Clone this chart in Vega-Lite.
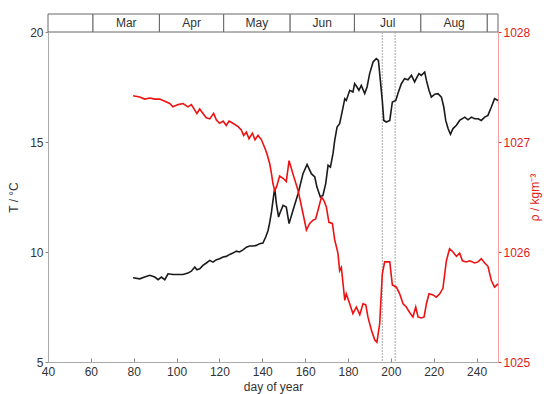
{
  "$schema": "https://vega.github.io/schema/vega-lite/v6.json",
  "padding": {"left": 7, "top": 13, "right": 2, "bottom": 2},
  "spacing": 0,
  "bounds": "flush",
  "config": {
    "view": {"stroke": null},
    "font": "Liberation Sans",
    "axis": {"grid": false, "labelFont": "Liberation Sans", "titleFont": "Liberation Sans", "labelFontSize": 12, "titleFontSize": 12, "titleFontWeight": "normal"}
  },
  "datasets": {
    "months": [
      {"start": 40, "end": 61, "label": ""},
      {"start": 61, "end": 92, "label": "Mar"},
      {"start": 92, "end": 122, "label": "Apr"},
      {"start": 122, "end": 153, "label": "May"},
      {"start": 153, "end": 183, "label": "Jun"},
      {"start": 183, "end": 214, "label": "Jul"},
      {"start": 214, "end": 245, "label": "Aug"},
      {"start": 245, "end": 250, "label": ""}
    ],
    "gaps": [{"day": 196}, {"day": 202}],
    "temp": [
      {"day": 79.7, "T": 8.83}, {"day": 82.8, "T": 8.78}, {"day": 85.1, "T": 8.86}, {"day": 87.5, "T": 8.94},
      {"day": 89.8, "T": 8.86}, {"day": 91.4, "T": 8.74}, {"day": 92.9, "T": 8.86}, {"day": 94.5, "T": 8.74},
      {"day": 96.0, "T": 9.01}, {"day": 98.3, "T": 8.98}, {"day": 100.7, "T": 8.98}, {"day": 103.0, "T": 8.98},
      {"day": 105.3, "T": 9.04}, {"day": 106.9, "T": 9.13}, {"day": 108.5, "T": 9.32}, {"day": 109.5, "T": 9.19},
      {"day": 110.8, "T": 9.24}, {"day": 112.3, "T": 9.39}, {"day": 113.9, "T": 9.5}, {"day": 115.5, "T": 9.62},
      {"day": 117.0, "T": 9.54}, {"day": 118.6, "T": 9.65}, {"day": 120.1, "T": 9.69}, {"day": 121.7, "T": 9.77},
      {"day": 123.2, "T": 9.8}, {"day": 124.8, "T": 9.89}, {"day": 126.3, "T": 9.95}, {"day": 127.9, "T": 10.04},
      {"day": 129.4, "T": 10.0}, {"day": 131.0, "T": 10.1}, {"day": 132.6, "T": 10.22}, {"day": 134.1, "T": 10.27},
      {"day": 135.7, "T": 10.27}, {"day": 137.2, "T": 10.3}, {"day": 138.8, "T": 10.38}, {"day": 140.3, "T": 10.41},
      {"day": 141.6, "T": 10.68}, {"day": 142.7, "T": 10.98}, {"day": 143.5, "T": 11.36}, {"day": 144.3, "T": 11.82},
      {"day": 145.0, "T": 12.35}, {"day": 145.8, "T": 12.9}, {"day": 146.6, "T": 12.19}, {"day": 147.6, "T": 11.59},
      {"day": 148.1, "T": 11.74}, {"day": 149.7, "T": 12.12}, {"day": 151.2, "T": 12.04}, {"day": 152.5, "T": 11.29},
      {"day": 154.3, "T": 11.89}, {"day": 156.7, "T": 12.65}, {"day": 159.0, "T": 13.56}, {"day": 160.9, "T": 13.98},
      {"day": 162.9, "T": 13.56}, {"day": 164.5, "T": 13.41}, {"day": 165.5, "T": 12.95}, {"day": 167.1, "T": 12.5},
      {"day": 168.3, "T": 12.57}, {"day": 169.6, "T": 13.11}, {"day": 170.7, "T": 13.94}, {"day": 171.8, "T": 13.86},
      {"day": 173.0, "T": 14.47}, {"day": 173.8, "T": 15.07}, {"day": 174.9, "T": 15.68}, {"day": 176.1, "T": 15.83},
      {"day": 177.4, "T": 16.44}, {"day": 178.5, "T": 16.97}, {"day": 179.2, "T": 16.89}, {"day": 180.8, "T": 17.35},
      {"day": 182.3, "T": 17.27}, {"day": 183.1, "T": 17.65}, {"day": 184.2, "T": 17.5}, {"day": 185.1, "T": 17.35},
      {"day": 186.2, "T": 17.57}, {"day": 187.8, "T": 17.2}, {"day": 188.9, "T": 17.5}, {"day": 190.1, "T": 18.11},
      {"day": 191.7, "T": 18.64}, {"day": 193.2, "T": 18.79}, {"day": 194.2, "T": 18.71}, {"day": 194.8, "T": 18.11},
      {"day": 196.0, "T": 16.89}, {"day": 196.7, "T": 15.98}, {"day": 197.9, "T": 15.91}, {"day": 199.5, "T": 15.98},
      {"day": 200.7, "T": 16.82}, {"day": 202.3, "T": 16.89}, {"day": 203.3, "T": 17.2}, {"day": 204.9, "T": 17.65},
      {"day": 206.4, "T": 17.88}, {"day": 208.0, "T": 17.83}, {"day": 209.6, "T": 18.03}, {"day": 211.1, "T": 17.73},
      {"day": 212.2, "T": 17.95}, {"day": 213.1, "T": 18.11}, {"day": 214.2, "T": 18.03}, {"day": 215.8, "T": 18.18},
      {"day": 216.6, "T": 17.8}, {"day": 217.8, "T": 17.35}, {"day": 218.9, "T": 17.04}, {"day": 220.5, "T": 17.17},
      {"day": 222.0, "T": 17.2}, {"day": 223.6, "T": 17.04}, {"day": 224.7, "T": 16.59}, {"day": 225.6, "T": 15.98},
      {"day": 226.7, "T": 15.61}, {"day": 227.8, "T": 15.35}, {"day": 229.0, "T": 15.61}, {"day": 230.6, "T": 15.76},
      {"day": 232.1, "T": 15.98}, {"day": 233.4, "T": 16.06}, {"day": 234.5, "T": 16.13}, {"day": 236.0, "T": 16.01},
      {"day": 237.6, "T": 16.13}, {"day": 239.1, "T": 16.06}, {"day": 240.7, "T": 16.06}, {"day": 242.2, "T": 15.98},
      {"day": 243.8, "T": 16.13}, {"day": 245.3, "T": 16.21}, {"day": 246.9, "T": 16.59}, {"day": 248.4, "T": 16.97},
      {"day": 250.0, "T": 16.89}
    ],
    "dens": [
      {"day": 79.7, "rho": 1027.42}, {"day": 82.8, "rho": 1027.41}, {"day": 85.1, "rho": 1027.39}, {"day": 87.5, "rho": 1027.4},
      {"day": 89.8, "rho": 1027.39}, {"day": 92.1, "rho": 1027.39}, {"day": 94.5, "rho": 1027.37}, {"day": 96.8, "rho": 1027.35},
      {"day": 98.3, "rho": 1027.32}, {"day": 100.7, "rho": 1027.34}, {"day": 103.0, "rho": 1027.35}, {"day": 105.3, "rho": 1027.32},
      {"day": 106.9, "rho": 1027.34}, {"day": 108.5, "rho": 1027.29}, {"day": 109.5, "rho": 1027.26}, {"day": 110.8, "rho": 1027.3},
      {"day": 112.3, "rho": 1027.26}, {"day": 113.9, "rho": 1027.22}, {"day": 115.5, "rho": 1027.21}, {"day": 117.3, "rho": 1027.26},
      {"day": 118.6, "rho": 1027.2}, {"day": 120.1, "rho": 1027.17}, {"day": 121.7, "rho": 1027.19}, {"day": 123.2, "rho": 1027.15},
      {"day": 124.5, "rho": 1027.19}, {"day": 126.3, "rho": 1027.17}, {"day": 128.7, "rho": 1027.14}, {"day": 130.2, "rho": 1027.11},
      {"day": 131.3, "rho": 1027.06}, {"day": 132.6, "rho": 1027.09}, {"day": 133.8, "rho": 1027.03}, {"day": 135.4, "rho": 1027.08},
      {"day": 136.6, "rho": 1027.02}, {"day": 138.0, "rho": 1027.06}, {"day": 139.6, "rho": 1027.02}, {"day": 141.1, "rho": 1026.95},
      {"day": 142.2, "rho": 1026.89}, {"day": 143.5, "rho": 1026.8}, {"day": 144.3, "rho": 1026.71}, {"day": 145.0, "rho": 1026.62},
      {"day": 145.8, "rho": 1026.56}, {"day": 146.6, "rho": 1026.59}, {"day": 148.1, "rho": 1026.69}, {"day": 149.7, "rho": 1026.67},
      {"day": 151.2, "rho": 1026.64}, {"day": 152.5, "rho": 1026.83}, {"day": 154.3, "rho": 1026.71}, {"day": 156.7, "rho": 1026.56},
      {"day": 159.0, "rho": 1026.35}, {"day": 160.6, "rho": 1026.2}, {"day": 162.1, "rho": 1026.26}, {"day": 163.7, "rho": 1026.29},
      {"day": 164.9, "rho": 1026.3}, {"day": 166.0, "rho": 1026.38}, {"day": 167.6, "rho": 1026.5}, {"day": 168.7, "rho": 1026.47},
      {"day": 169.9, "rho": 1026.41}, {"day": 171.1, "rho": 1026.27}, {"day": 172.7, "rho": 1026.26}, {"day": 173.8, "rho": 1026.11},
      {"day": 175.3, "rho": 1025.99}, {"day": 176.1, "rho": 1025.83}, {"day": 176.9, "rho": 1025.86}, {"day": 177.7, "rho": 1025.71},
      {"day": 178.5, "rho": 1025.56}, {"day": 179.2, "rho": 1025.62}, {"day": 180.8, "rho": 1025.53}, {"day": 182.3, "rho": 1025.44},
      {"day": 183.9, "rho": 1025.5}, {"day": 185.5, "rho": 1025.43}, {"day": 187.0, "rho": 1025.53}, {"day": 188.3, "rho": 1025.52},
      {"day": 189.3, "rho": 1025.41}, {"day": 190.9, "rho": 1025.29}, {"day": 192.5, "rho": 1025.2}, {"day": 193.5, "rho": 1025.18},
      {"day": 194.8, "rho": 1025.35}, {"day": 196.0, "rho": 1025.8}, {"day": 197.1, "rho": 1025.91}, {"day": 199.5, "rho": 1025.91},
      {"day": 200.7, "rho": 1025.7}, {"day": 202.6, "rho": 1025.68}, {"day": 204.1, "rho": 1025.62}, {"day": 205.7, "rho": 1025.53},
      {"day": 207.2, "rho": 1025.5}, {"day": 209.1, "rho": 1025.44}, {"day": 210.3, "rho": 1025.41}, {"day": 211.6, "rho": 1025.5},
      {"day": 212.7, "rho": 1025.41}, {"day": 214.2, "rho": 1025.4}, {"day": 215.5, "rho": 1025.41}, {"day": 216.6, "rho": 1025.53},
      {"day": 217.8, "rho": 1025.62}, {"day": 219.7, "rho": 1025.61}, {"day": 221.2, "rho": 1025.59}, {"day": 222.8, "rho": 1025.62},
      {"day": 224.3, "rho": 1025.67}, {"day": 225.9, "rho": 1025.92}, {"day": 227.4, "rho": 1026.03}, {"day": 229.0, "rho": 1026.0},
      {"day": 230.6, "rho": 1025.96}, {"day": 232.1, "rho": 1025.99}, {"day": 233.4, "rho": 1025.92}, {"day": 235.2, "rho": 1025.91},
      {"day": 236.8, "rho": 1025.92}, {"day": 239.1, "rho": 1025.9}, {"day": 240.7, "rho": 1025.91}, {"day": 242.2, "rho": 1025.94},
      {"day": 243.8, "rho": 1025.9}, {"day": 245.3, "rho": 1025.87}, {"day": 246.9, "rho": 1025.74}, {"day": 248.4, "rho": 1025.68},
      {"day": 250.0, "rho": 1025.71}
    ]
  },
  "vconcat": [
    {
      "width": 450,
      "height": 18,
      "data": {"name": "months"},
      "transform": [{"calculate": "(datum.start + datum.end) / 2", "as": "mid"}],
      "layer": [
        {
          "mark": {"type": "rect", "fill": "white", "stroke": "#666666", "strokeWidth": 1},
          "encoding": {
            "x": {"field": "start", "type": "quantitative", "scale": {"domain": [40, 250], "nice": false, "zero": false}, "axis": null},
            "x2": {"field": "end"}
          }
        },
        {
          "mark": {"type": "text", "fontSize": 12, "color": "#333333", "baseline": "middle", "font": "Liberation Sans"},
          "encoding": {
            "x": {"field": "mid", "type": "quantitative", "scale": {"domain": [40, 250], "nice": false, "zero": false}, "axis": null},
            "text": {"field": "label"}
          }
        }
      ]
    },
    {
      "width": 450,
      "height": 330,
      "encoding": {
        "x": {
          "field": "day", "type": "quantitative",
          "scale": {"domain": [40, 250], "nice": false, "zero": false},
          "axis": {"values": [40, 60, 80, 100, 120, 140, 160, 180, 200, 220, 240], "labelFlush": false, "tickSize": -4, "labelPadding": 8, "domainColor": "#aaaaaa", "tickColor": "#888888", "labelColor": "#333333", "title": "day of year", "titleColor": "#333333", "titlePadding": 4}
        }
      },
      "layer": [
        {
          "data": {"name": "gaps"},
          "mark": {"type": "rule", "color": "#aaaaaa", "strokeWidth": 1, "strokeDash": [2, 1]}
        },
        {
          "data": {"name": "temp"},
          "mark": {"type": "line", "color": "#1a1a1a", "strokeWidth": 1.6},
          "encoding": {
            "y": {"field": "T", "type": "quantitative", "scale": {"domain": [5, 20], "nice": false, "zero": false},
              "axis": {"values": [5, 10, 15, 20], "title": "T / °C", "domainColor": "#aaaaaa", "tickColor": "#888888", "tickSize": 3, "labelColor": "#333333", "titleColor": "#333333", "labelPadding": 2, "titlePadding": 9}}
          }
        },
        {
          "data": {"name": "dens"},
          "mark": {"type": "line", "color": "#ee1111", "strokeWidth": 1.6},
          "encoding": {
            "y": {"field": "rho", "type": "quantitative", "scale": {"domain": [1025, 1028], "nice": false, "zero": false},
              "axis": {"orient": "right", "values": [1025, 1026, 1027, 1028], "format": "d", "title": "ρ / kgm⁻³", "titleAngle": 270, "domainColor": "#f2a0a0", "tickColor": "#e03030", "tickSize": 3, "labelColor": "#e02020", "titleColor": "#e02020", "labelPadding": 2, "titlePadding": 12}}
          }
        }
      ],
      "resolve": {"scale": {"y": "independent"}}
    }
  ]
}
